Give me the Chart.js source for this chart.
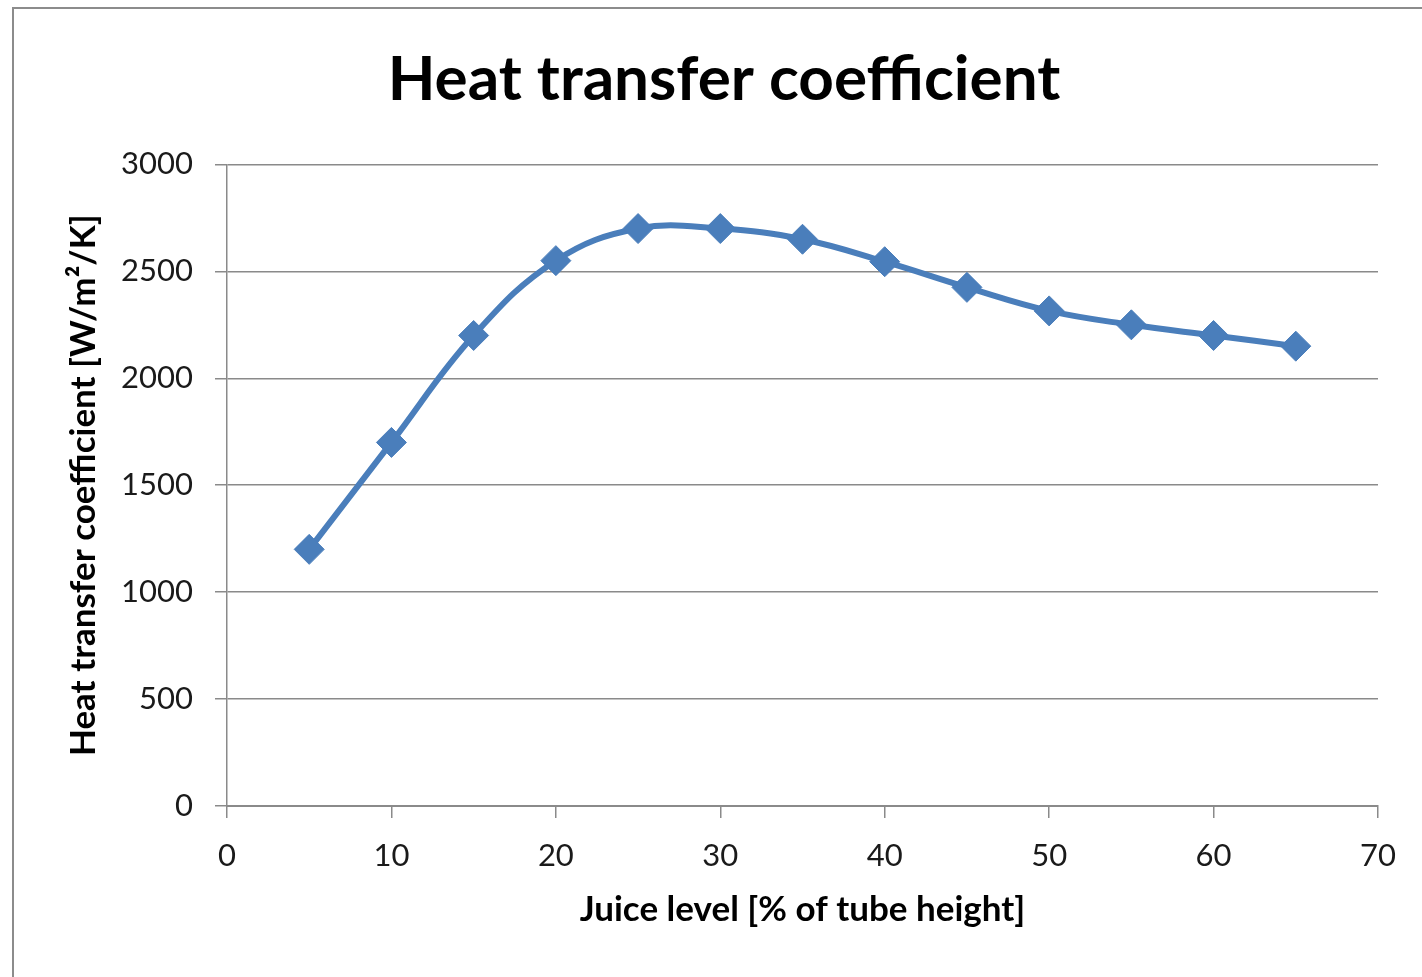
<!DOCTYPE html>
<html>
<head>
<meta charset="utf-8">
<script src="https://cdn.jsdelivr.net/npm/chart.js@4"></script>
<style>
  html, body { margin: 0; padding: 0; background: #fff; overflow: hidden; }
  #frame { position: absolute; left: 12px; top: 7px; width: 1430px; height: 990px; border: 2px solid #8c8c8c; box-sizing: border-box; }
  #wrap { position: absolute; left: 0; top: 0; width: 1422px; height: 977px; }
</style>
</head>
<body>
<div id="frame"></div>
<div id="wrap"><canvas id="htcChart" width="1422" height="977"></canvas></div>
<script>
// datos
const juiceLevel = [5, 10, 15, 20, 25, 30, 35, 40, 45, 50, 55, 60, 65];
const heatCoef = [1200, 1700, 2200, 2550, 2700, 2700, 2650, 2545, 2425, 2315, 2250, 2200, 2150];
const yTicks = [0, 500, 1000, 1500, 2000, 2500, 3000];
const xTicks = [0, 10, 20, 30, 40, 50, 60, 70];

const FONT = "Lato, 'Open Sans', sans-serif";
const BLUE = "#4a7ebb";
const GRID = "#8a8a8a";

new Chart(document.getElementById("htcChart"), {
  type: "line",
  data: {
    datasets: [{
      label: "Heat transfer coefficient",
      data: juiceLevel.map((x, i) => ({ x: x, y: heatCoef[i] })),
      borderColor: BLUE,
      backgroundColor: BLUE,
      borderWidth: 6,
      tension: 0.4,
      pointStyle: "rectRot",
      pointRadius: 15,
      pointBorderWidth: 1,
      pointBackgroundColor: BLUE,
      pointBorderColor: BLUE,
    }],
  },
  options: {
    responsive: false,
    animation: false,
    layout: { padding: { left: 26, right: 0, top: 0, bottom: 0 } },
    plugins: {
      legend: { display: false },
      tooltip: { enabled: false },
      title: {
        display: true,
        text: "Heat transfer coefficient",
        color: "#000",
        font: { family: FONT, size: 62, weight: "bold", lineHeight: 1.2 },
        padding: { top: 43, bottom: 47 },
      },
    },
    scales: {
      x: {
        type: "linear",
        min: 0,
        max: 70,
        afterBuildTicks: (s) => { s.ticks = xTicks.map(v => ({ value: v })); },
        afterFit: (s) => { s.height = 171; },
        border: { color: GRID, width: 2 },
        grid: { drawOnChartArea: false, drawTicks: true, tickLength: 12, color: GRID, lineWidth: 1.5 },
        ticks: { color: "#1a1a1a", padding: 19, font: { family: FONT, size: 31 } },
        title: {
          display: true,
          text: "Juice level [% of tube height]",
          color: "#000",
          font: { family: FONT, size: 35, weight: "bold", lineHeight: 1.2 },
          padding: { top: 0, bottom: 46 },
        },
      },
      y: {
        min: 0,
        max: 3000,
        afterBuildTicks: (s) => { s.ticks = yTicks.map(v => ({ value: v })); },
        afterFit: (s) => { s.width = 201; },
        border: { color: GRID, width: 1.5 },
        grid: { tickLength: 12, color: GRID, lineWidth: 1.5 },
        ticks: { color: "#1a1a1a", padding: 22, font: { family: FONT, size: 31 }, callback: (v) => String(v) },
        title: {
          display: true,
          text: "Heat transfer coefficient [W/m\u00b2/K]",
          color: "#000",
          font: { family: FONT, size: 35, weight: "bold", lineHeight: 1.2 },
          padding: { top: 37, bottom: 0 },
        },
      },
      // eje vacio a la derecha solo para dejar el margen
      yRight: {
        position: "right",
        display: true,
        afterFit: (s) => { s.width = 44; },
        border: { display: false },
        grid: { display: false },
        ticks: { display: false },
      },
    },
  },
});
</script>
</body>
</html>
